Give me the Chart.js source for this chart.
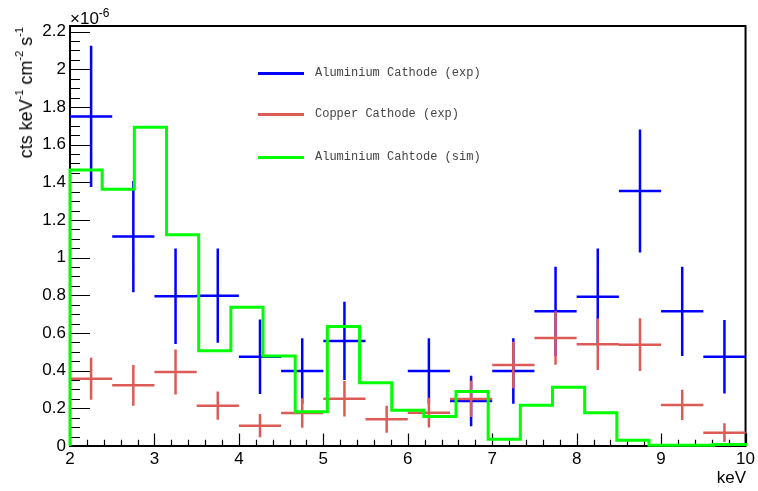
<!DOCTYPE html>
<html>
<head>
<meta charset="utf-8">
<script src="https://cdn.jsdelivr.net/npm/chart.js@4.4.0/dist/chart.umd.min.js"></script>
<style>
html, body { margin: 0; padding: 0; background: #fff; }
#wrap { position: relative; width: 758px; height: 491px; font-family: "Liberation Sans", Arial, sans-serif; color: #000; }
#spectrum { position: absolute; left: 0; top: 0; }
.exp10 { position: absolute; left: 70px; top: 3px; font-size: 17px; line-height: 20px; }
.exp10 sup { font-size: 12px; vertical-align: 7px; }
.ytitle { position: absolute; left: 9px; top: 27px; font-size: 18px; line-height: 20px; writing-mode: vertical-rl; transform: rotate(180deg); white-space: nowrap; }
.ytitle sup { font-size: 11px; vertical-align: 7px; }
.xtitle { position: absolute; right: 12px; top: 468px; font-size: 17px; line-height: 20px; }
.leg { position: absolute; left: 258px; height: 20px; display: flex; align-items: center; font-family: "Liberation Mono", "DejaVu Sans Mono", monospace; font-size: 12px; color: #444; white-space: nowrap; }
.leg i { display: inline-block; width: 46px; height: 3px; margin-right: 11px; }
</style>
</head>
<body>
<div id="wrap">
  <canvas id="spectrum" width="758" height="491"></canvas>
  <div class="exp10">&times;10<sup>-6</sup></div>
  <div class="ytitle">cts keV<sup>-1</sup> cm<sup>-2</sup> s<sup>-1</sup></div>
  <div class="xtitle">keV</div>
  <div class="leg" style="top:63px"><i style="background:#0000ff"></i>Aluminium Cathode (exp)</div>
  <div class="leg" style="top:104px"><i style="background:#dc5b57"></i>Copper Cathode (exp)</div>
  <div class="leg" style="top:147px"><i style="background:#00ff00"></i>Aluminium Cahtode (sim)</div>
</div>
<script>
// ===== Data (y in units of 1e-6 cts keV^-1 cm^-2 s^-1) =====
const binCenters = [2.25, 2.75, 3.25, 3.75, 4.25, 4.75, 5.25, 5.75, 6.25, 6.75, 7.25, 7.75, 8.25, 8.75, 9.25, 9.75];
const binHalfWidth = 0.25;

const alExp    = [1.75, 1.112, 0.795, 0.798, 0.474, 0.398, 0.558, null, 0.398, 0.239, 0.398, 0.715, 0.793, 1.354, 0.715, 0.474];
const alExpErr = [0.375, 0.295, 0.253, 0.25, 0.198, 0.174, 0.208, null, 0.174, 0.134, 0.174, 0.237, 0.255, 0.327, 0.237, 0.195];

const cuExp    = [0.357, 0.322, 0.393, 0.214, 0.108, 0.175, 0.251, 0.142, 0.177, 0.25, 0.43, 0.574, 0.54, 0.538, 0.218, 0.071];
const cuExpErr = [0.112, 0.108, 0.119, 0.075, 0.062, 0.078, 0.094, 0.072, 0.079, 0.096, 0.124, 0.142, 0.137, 0.14, 0.08, 0.05];

const simEdges = [2.000, 2.381, 2.762, 3.143, 3.524, 3.905, 4.286, 4.667, 5.048, 5.429, 5.810,
                  6.190, 6.571, 6.952, 7.333, 7.714, 8.095, 8.476, 8.857, 9.238, 9.619, 10.000];
const alSim = [1.466, 1.363, 1.692, 1.121, 0.506, 0.737, 0.478, 0.182, 0.634, 0.336, 0.19,
               0.156, 0.29, 0.036, 0.216, 0.312, 0.177, 0.030, 0.004, 0.004, 0.008];

const xTicks = [2, 3, 4, 5, 6, 7, 8, 9, 10];
const yTicks = [0, 0.2, 0.4, 0.6, 0.8, 1, 1.2, 1.4, 1.6, 1.8, 2, 2.2];

// ===== Build line segments for the error crosses =====
function errorCrosses(xs, ys, errs) {
    const pts = [];
    xs.forEach(function(x, i) {
        if (ys[i] === null) return;
        pts.push({ x: x - binHalfWidth, y: ys[i] }, { x: x + binHalfWidth, y: ys[i] }, { x: x, y: null });
        pts.push({ x: x, y: ys[i] - errs[i] }, { x: x, y: ys[i] + errs[i] }, { x: x, y: null });
    });
    return pts;
}

// step histogram through the bin edges, closed to zero at both ends
function histogramSteps(edges, vals) {
    const pts = [{ x: edges[0], y: 0 }];
    vals.forEach(function(v, i) { pts.push({ x: edges[i], y: v }); });
    pts.push({ x: edges[edges.length - 1], y: vals[vals.length - 1] });
    pts.push({ x: edges[edges.length - 1], y: 0 });
    return pts;
}

// ===== ROOT-like frame with inward ticks =====
const rootFrame = {
    id: "rootFrame",
    beforeDatasetsDraw(chart) {
        const { ctx, chartArea: a, scales: { x, y } } = chart;
        ctx.save();
        ctx.strokeStyle = "#000";
        ctx.lineWidth = 1.2;
        ctx.beginPath();
        // x ticks: major every 1 keV, minor every 0.2
        for (let i = 0; i <= 40; i++) {
            const px = Math.round(x.getPixelForValue(2 + i * 0.2)) + 0.5;
            const len = i % 5 === 0 ? 12.6 : 6.3;
            ctx.moveTo(px, a.bottom);
            ctx.lineTo(px, a.bottom - len);
        }
        // y ticks: major every 0.2, minor every 0.05
        for (let i = 0; i <= 44; i++) {
            const py = Math.round(y.getPixelForValue(i * 0.05)) + 0.5;
            const len = i % 4 === 0 ? 20 : 10;
            ctx.moveTo(a.left, py);
            ctx.lineTo(a.left + len, py);
        }
        ctx.stroke();
        ctx.lineWidth = 2;
        ctx.strokeRect(a.left, a.top, a.right - a.left, a.bottom - a.top);
        ctx.restore();
    }
};

const tickFont = { family: "'Liberation Sans', Arial, sans-serif", size: 17 };

new Chart(document.getElementById("spectrum"), {
    type: "line",
    data: {
        datasets: [
            {
                label: "Aluminium Cahtode (sim)",
                data: histogramSteps(simEdges, alSim),
                stepped: "before",
                borderColor: "#00ff00",
                borderWidth: 3,
                pointRadius: 0,
                clip: false,
                order: 0
            },
            {
                label: "Copper Cathode (exp)",
                data: errorCrosses(binCenters, cuExp, cuExpErr),
                borderColor: "#dc5b57",
                borderWidth: 2.5,
                pointRadius: 0,
                spanGaps: false,
                clip: false,
                order: 1
            },
            {
                label: "Aluminium Cathode (exp)",
                data: errorCrosses(binCenters, alExp, alExpErr),
                borderColor: "#0000ff",
                borderWidth: 2.5,
                pointRadius: 0,
                spanGaps: false,
                clip: false,
                order: 2
            }
        ]
    },
    options: {
        responsive: false,
        animation: false,
        layout: { padding: { top: 26, right: 10, left: 0, bottom: 0 } },
        plugins: { legend: { display: false }, tooltip: { enabled: false } },
        scales: {
            x: {
                type: "linear",
                min: 2,
                max: 10,
                afterBuildTicks: function(scale) { scale.ticks = xTicks.map(function(v) { return { value: v }; }); },
                afterFit: function(scale) { scale.height = 45; },
                grid: { display: false, drawTicks: false },
                border: { display: false },
                ticks: { color: "#000", font: tickFont, padding: 3, maxRotation: 0, autoSkip: false,
                         callback: function(v) { return String(v); } }
            },
            y: {
                type: "linear",
                min: 0,
                max: 2.23,
                afterBuildTicks: function(scale) { scale.ticks = yTicks.map(function(v) { return { value: v }; }); },
                afterFit: function(scale) { scale.width = 70; },
                grid: { display: false, drawTicks: false },
                border: { display: false },
                ticks: { color: "#000", font: tickFont, padding: 4, autoSkip: false,
                         callback: function(v) { return String(+v.toFixed(2)); } }
            }
        }
    },
    plugins: [rootFrame]
});
</script>
</body>
</html>
